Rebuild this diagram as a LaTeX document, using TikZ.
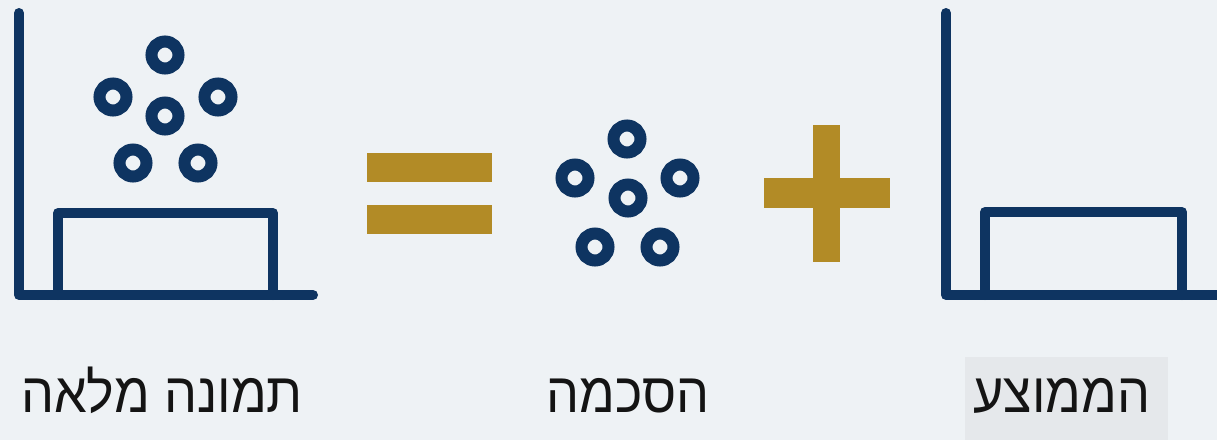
\documentclass[tikz,border=0pt]{standalone}
\usepackage{fontspec}
\TeXXeTstate=1
\newfontfamily\hebfont[Script=Hebrew,FakeStretch=0.93]{Liberation Sans}
\definecolor{bgc}{HTML}{EEF2F5}
\definecolor{navy}{HTML}{0E3461}
\definecolor{gold}{HTML}{B28B26}
\definecolor{boxc}{HTML}{E5E8EB}
\tikzset{
  axisline/.style={draw=navy, line width=10pt, line cap=round, line join=round},
  ring/.style={circle, draw=navy, line width=12pt, minimum size=#1, inner sep=0pt},
  ring/.default=27pt,
  goldbar/.style={fill=gold, draw=none},
  label/.style={font=\hebfont\fontsize{56}{60}\selectfont, text=black!92, anchor=base, inner sep=0pt}
}
\begin{document}
\begin{tikzpicture}[x=1pt,y=-1pt]
\fill[bgc] (0,0) rectangle (1217,440);
\useasboundingbox (0,0) rectangle (1217,440);
% left chart
\draw[axisline] (19,13) -- (19,295) -- (313,295);
\draw[axisline] (58,295) -- (58,213) -- (273,213) -- (273,295);
\node[ring] (l1) at (165,55) {};
\node[ring] (l2) at (113,97) {};
\node[ring] (l3) at (218,97) {};
\node[ring] (l4) at (165,116) {};
\node[ring] (l5) at (133,163) {};
\node[ring] (l6) at (198,163) {};
% equals
\fill[goldbar] (367,153) rectangle (492,182);
\fill[goldbar] (367,205) rectangle (492,234);
% middle circles
\node[ring] (m1) at (627,139) {};
\node[ring] (m2) at (575,178) {};
\node[ring] (m3) at (680,178) {};
\node[ring] (m4) at (628,198) {};
\node[ring] (m5) at (595,247) {};
\node[ring] (m6) at (660,247) {};
% plus
\fill[goldbar] (764,178) rectangle (890,208);
\fill[goldbar] (813,125) rectangle (840,262);
% right chart
\draw[axisline] (946,13) -- (946,295) -- (1225,295);
\draw[axisline] (985,295) -- (985,212) -- (1182,212) -- (1182,295);
% labels
\fill[boxc] (965,357) rectangle (1168,440);
\node[label] (t1) at (162,412) {\beginR תמונה מלאה\endR};
\node[label] (t2) at (628,412) {\beginR הסכמה\endR};
\node[label] (t3) at (1062,412) {\beginR הממוצע\endR};
\end{tikzpicture}
\end{document}
